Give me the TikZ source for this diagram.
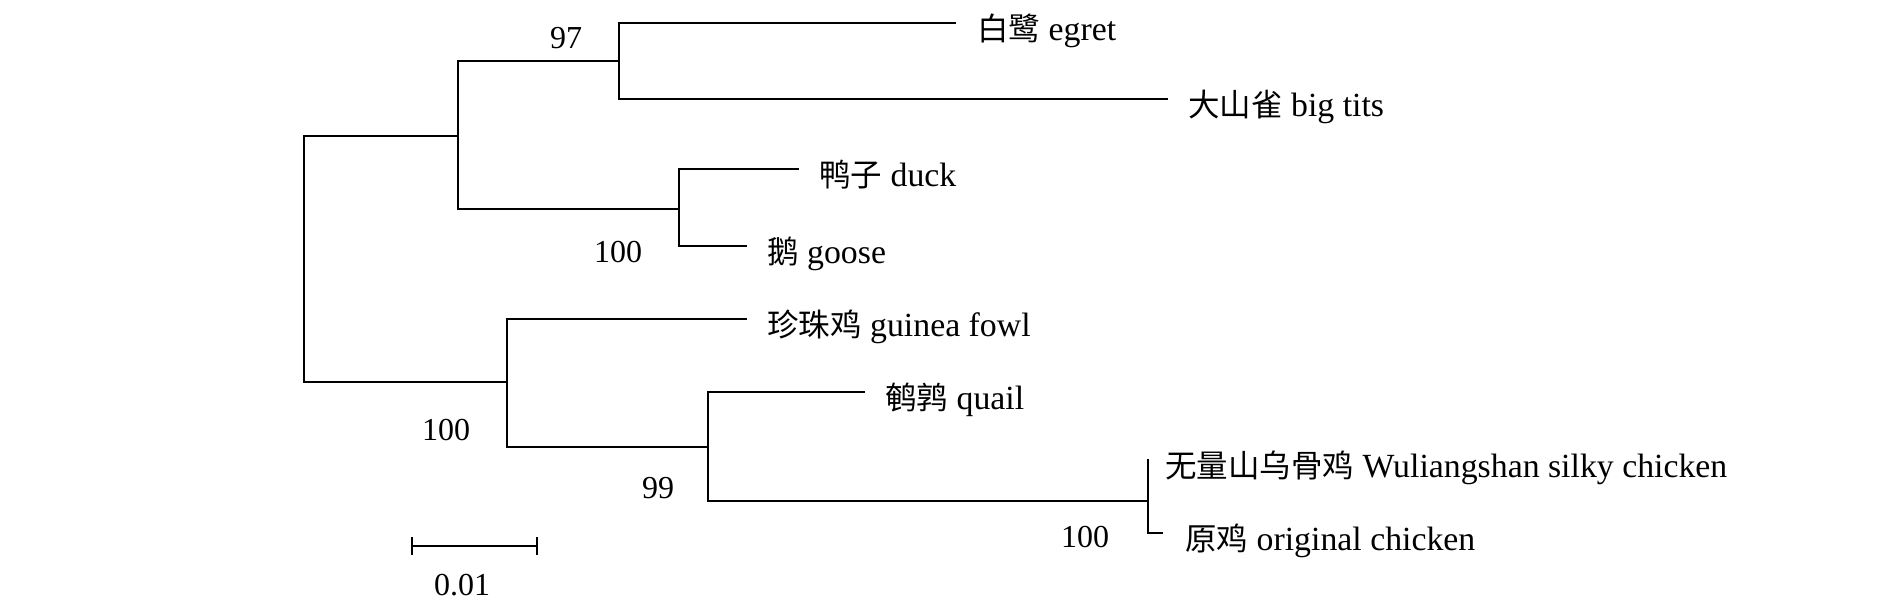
\documentclass[tikz,border=0pt]{standalone}
\usepackage{fontspec}
\setmainfont{Liberation Serif}
\newfontfamily\cjk{Noto Sans CJK SC}
\newcommand{\zh}[1]{{\fontsize{31.5}{38}\selectfont\cjk #1}}
\begin{document}
\begin{tikzpicture}[x=1pt,y=-1pt,
  font=\fontsize{32}{38}\selectfont,
  branch/.style={line width=2pt, line join=miter, black},
  leaflab/.style={anchor=base west, inner sep=0pt, font=\fontsize{33.8}{40}\selectfont},
  boot/.style={anchor=center, inner sep=0pt}]
\useasboundingbox (0,0) rectangle (1890,611);
% internal nodes
\coordinate (root) at (304,259);
\coordinate (up)   at (458,136);
\coordinate (n97)  at (619,61);
\coordinate (ndg)  at (679,209);
\coordinate (low)  at (507,382);
\coordinate (n99)  at (708,447);
\coordinate (nch)  at (1148,501);
% leaf ends
\coordinate (egret) at (956,23);
\coordinate (tits)  at (1168,99);
\coordinate (duck)  at (799,169);
\coordinate (goose) at (747,246);
\coordinate (fowl)  at (747,319);
\coordinate (quail) at (865,392);
\coordinate (silky) at (1149,460);
\coordinate (orig)  at (1163,533);
% branches
\draw[branch] (root) |- (up);
\draw[branch] (root) |- (low);
\draw[branch] (up) |- (n97);
\draw[branch] (up) |- (ndg);
\draw[branch] (n97) |- (egret);
\draw[branch] (n97) |- (tits);
\draw[branch] (ndg) |- (duck);
\draw[branch] (ndg) |- (goose);
\draw[branch] (low) |- (fowl);
\draw[branch] (low) |- (n99);
\draw[branch] (n99) |- (quail);
\draw[branch] (n99) |- (nch);
\draw[branch] (nch) |- (silky);
\draw[branch] (nch) |- (orig);
% leaf labels
\node[leaflab] (legret) at (977,40)   {\zh{白鹭} egret};
\node[leaflab] (ltits)  at (1188,116) {\zh{大山雀} big tits};
\node[leaflab] (lduck)  at (819,186)  {\zh{鸭子} duck};
\node[leaflab] (lgoose) at (767,263)  {\zh{鹅} goose};
\node[leaflab] (lfowl)  at (767,336)  {\zh{珍珠鸡} guinea fowl};
\node[leaflab] (lquail) at (885,409)  {\zh{鹌鹑} quail};
\node[leaflab] (lsilky) at (1165,477) {\zh{无量山乌骨鸡} Wuliangshan silky chicken};
\node[leaflab] (lorig)  at (1185,550) {\zh{原鸡} original chicken};
% bootstrap values
\node[boot] (b97)  at (566,38)  {97};
\node[boot] (bdg)  at (618,252) {100};
\node[boot] (blow) at (446,430) {100};
\node[boot] (b99)  at (658,488) {99};
\node[boot] (bch)  at (1085,537) {100};
% scale bar
\coordinate (sbl) at (412,546);
\coordinate (sbr) at (537,546);
\draw[branch] (sbl) -- (sbr);
\draw[branch] ([yshift=9pt]sbl) -- ([yshift=-9pt]sbl);
\draw[branch] ([yshift=9pt]sbr) -- ([yshift=-9pt]sbr);
\node[boot] (sblab) at (462,585) {0.01};
\end{tikzpicture}
\end{document}
